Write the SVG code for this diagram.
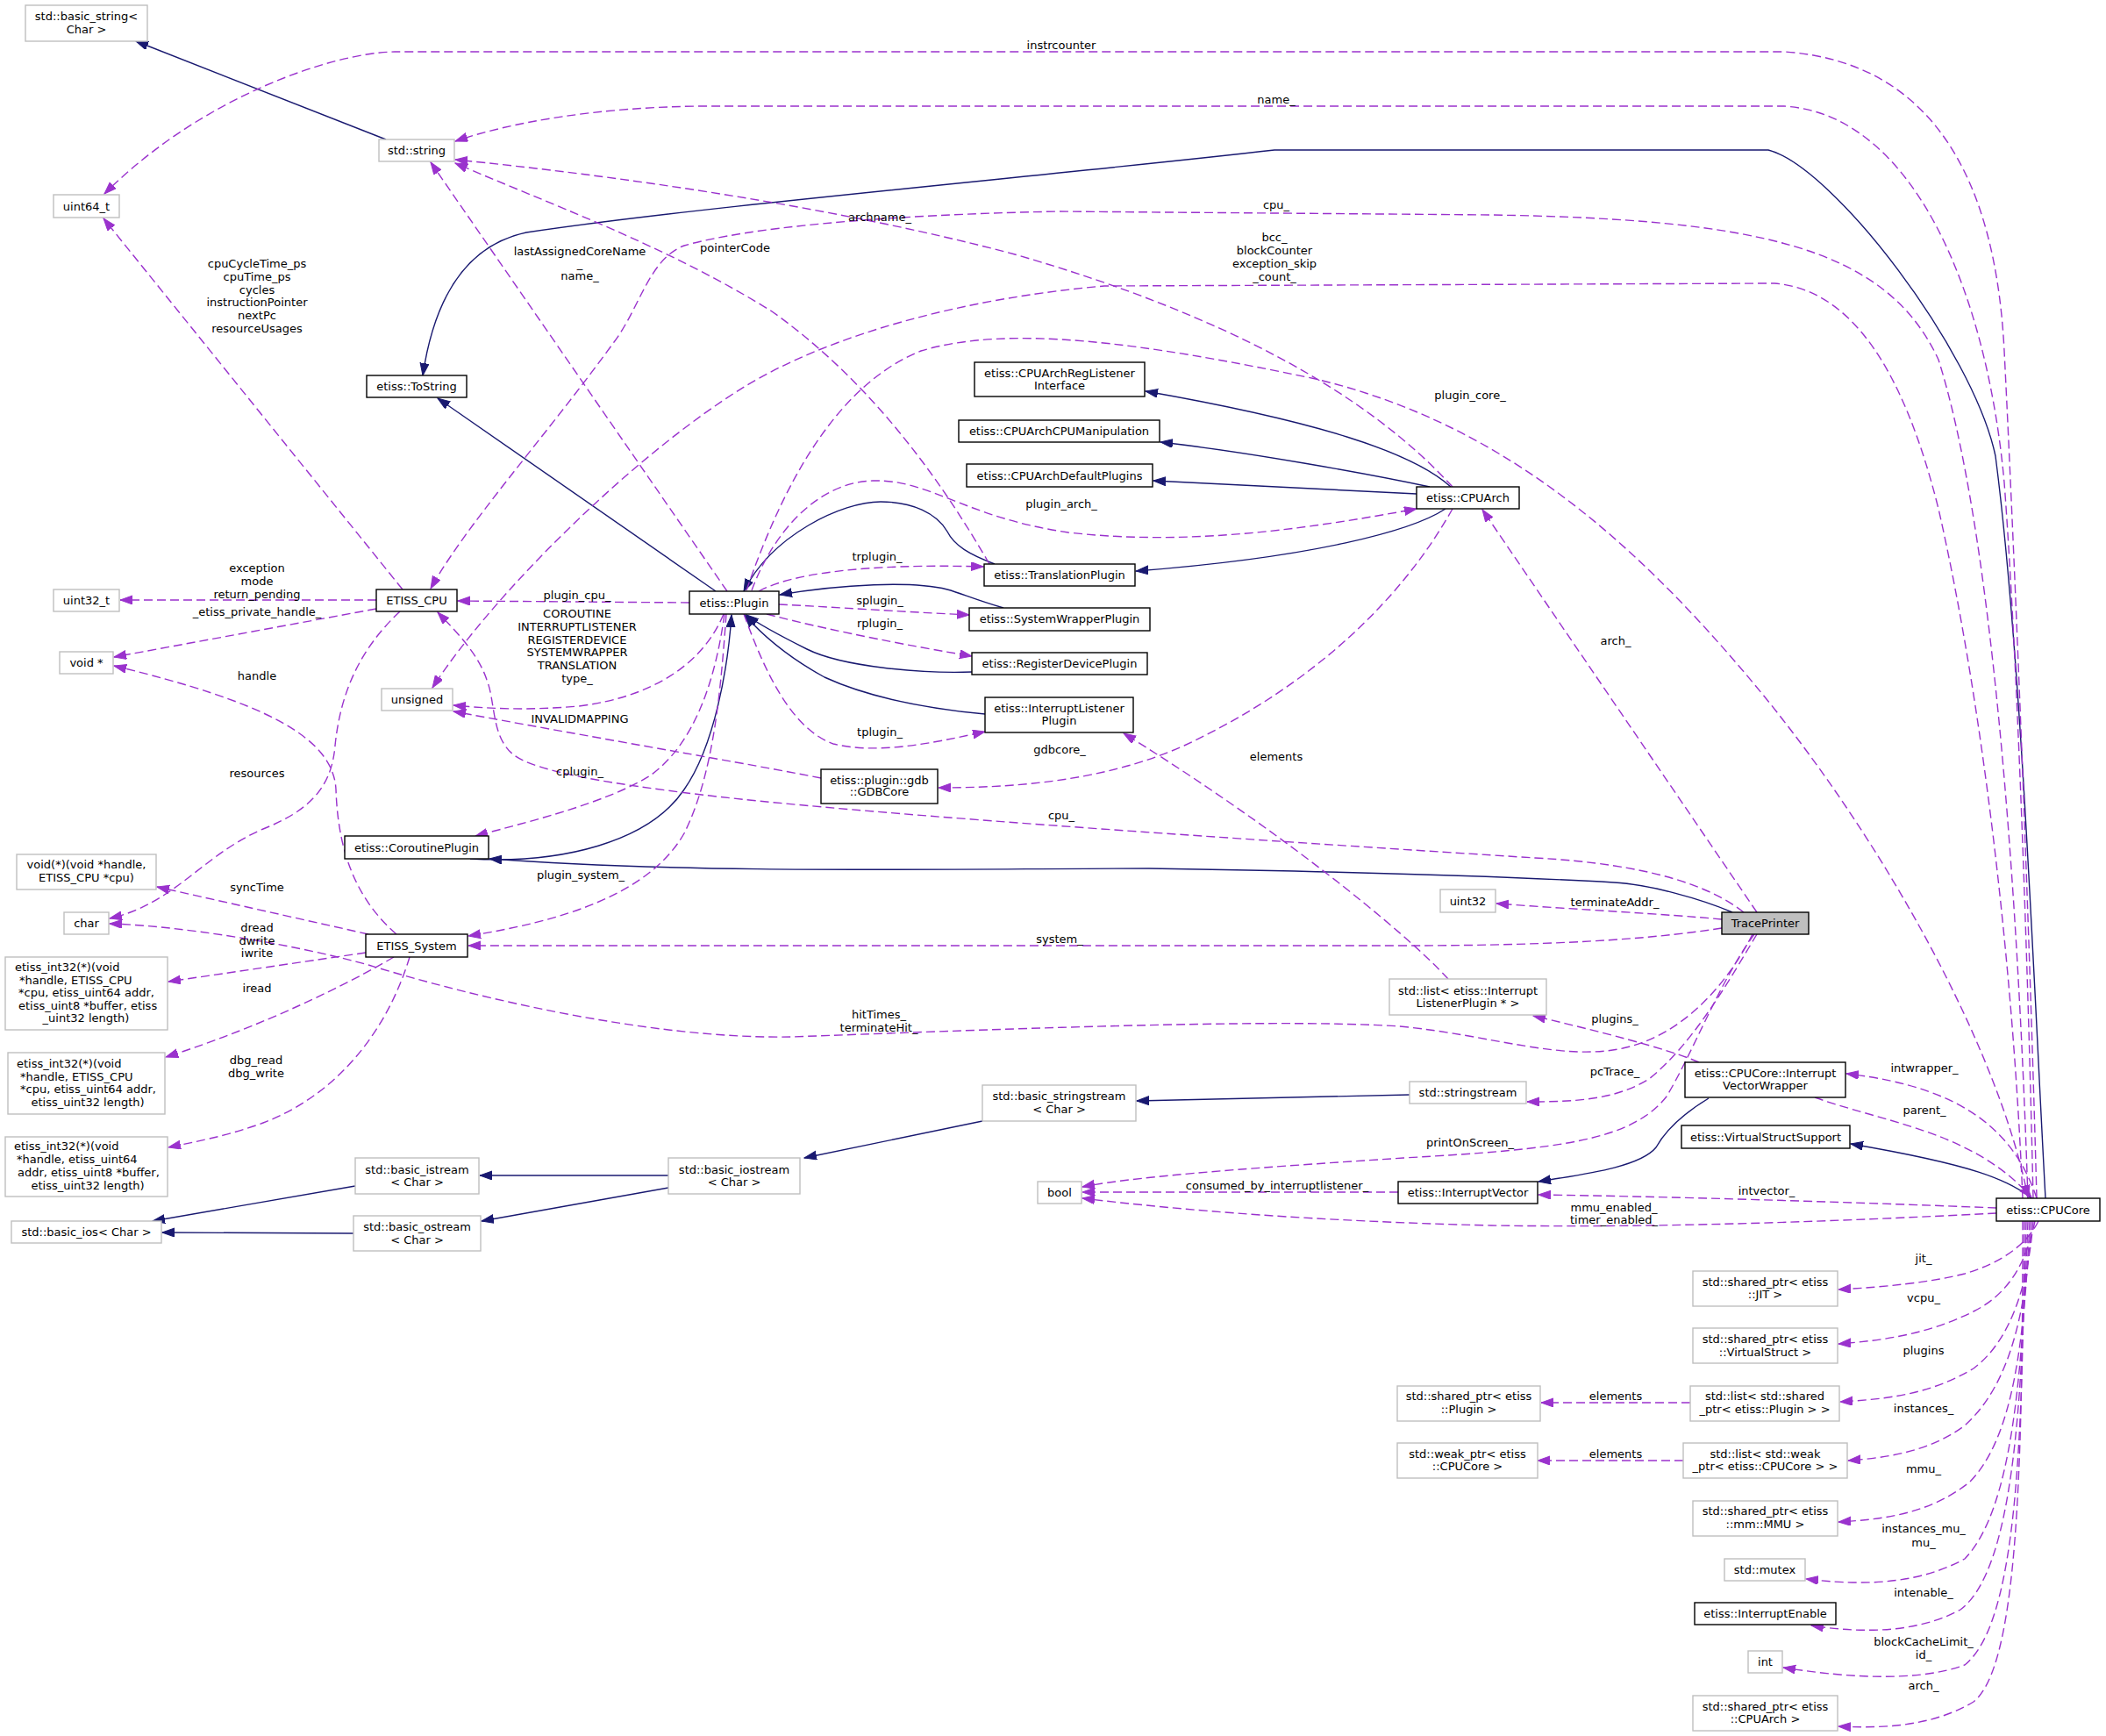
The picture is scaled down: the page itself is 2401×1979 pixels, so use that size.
<svg xmlns="http://www.w3.org/2000/svg" width="2401" height="1979" viewBox="0 0 2401 1979">
<defs>
<marker id="an" markerUnits="userSpaceOnUse" markerWidth="15" markerHeight="11" refX="14" refY="5" orient="auto"><path d="M0,0 L14,5 L0,10 z" fill="#191970" stroke="#191970"/></marker>
<marker id="ap" markerUnits="userSpaceOnUse" markerWidth="15" markerHeight="11" refX="14" refY="5" orient="auto"><path d="M0,0 L14,5 L0,10 z" fill="#9a32cd" stroke="#9a32cd"/></marker>
<style>
text{font-family:"DejaVu Sans","Liberation Sans",sans-serif;font-size:13px;fill:#000;text-anchor:middle}
text.l{text-anchor:start}
.nb rect{fill:#fff;stroke:#000;stroke-width:1.4}
.ng rect{fill:#fff;stroke:#bfbfbf;stroke-width:1.4}
.nt rect{fill:#bfbfbf;stroke:#000;stroke-width:1.4}
.inh{fill:none;stroke:#191970;stroke-width:1.4;marker-end:url(#an)}
.use{fill:none;stroke:#9a32cd;stroke-width:1.4;stroke-dasharray:10,5;marker-end:url(#ap)}
</style>
</defs>
<rect x="0" y="0" width="2401" height="1979" fill="#fff"/>
<g id="edges">
<path class="inh" d="M 440 159 L 155 47"/>
<path class="inh" d="M 816 674 L 499 454"/>
<path class="inh" d="M 2332 1366 C 2320 1150, 2305 750, 2275 520 C 2250 400, 2090 190, 2016 171 L 1453 171 C 1200 200, 800 235, 600 265 C 530 280, 495 340, 482 428"/>
<path class="inh" d="M 1654 555 C 1610 515, 1500 480, 1306 446"/>
<path class="inh" d="M 1630 555 C 1560 540, 1420 515, 1323 504"/>
<path class="inh" d="M 1615 563 L 1315 548"/>
<path class="inh" d="M 1648 580 C 1610 605, 1500 635, 1295 651"/>
<path class="inh" d="M 1134 643 C 1105 632, 1088 622, 1080 606 C 1068 585, 1040 572, 1004 572 C 960 572, 880 610, 848 674"/>
<path class="inh" d="M 1144 693 C 1110 683, 1095 676, 1080 672 C 1040 662, 960 666, 889 678"/>
<path class="inh" d="M 1108 766 C 1050 768, 960 760, 920 740 C 890 725, 865 712, 851 701"/>
<path class="inh" d="M 1123 814 C 1060 808, 990 795, 940 772 C 900 750, 870 725, 849 701"/>
<path class="inh" d="M 536 979 C 640 985, 740 960, 780 900 C 815 850, 830 760, 834 701"/>
<path class="inh" d="M 1975 1040 C 1940 1025, 1880 1008, 1840 1006 C 1700 998, 1500 993, 1310 990 C 1100 990, 800 997, 558 979"/>
<path class="inh" d="M 1948 1252 C 1915 1272, 1898 1290, 1888 1308 C 1870 1330, 1810 1338, 1754 1347"/>
<path class="inh" d="M 2316 1366 C 2290 1345, 2250 1328, 2110 1304"/>
<path class="inh" d="M 1607 1248 L 1296 1255"/>
<path class="inh" d="M 1120 1278 L 917 1320"/>
<path class="inh" d="M 762 1340 L 547 1340"/>
<path class="inh" d="M 762 1354 L 549 1392"/>
<path class="inh" d="M 405 1352 L 174 1392"/>
<path class="inh" d="M 403 1406 L 185 1405"/>

<path class="use" d="M 2322 1366 C 2315 1100, 2300 700, 2285 400 C 2275 200, 2200 70, 2034 59 L 450 59 C 380 60, 230 110, 119 221"/>
<path class="use" d="M 2318 1366 C 2312 1100, 2300 750, 2285 550 C 2265 330, 2180 130, 2034 121 L 800 121 C 680 122, 580 140, 519 161"/>
<path class="use" d="M 2312 1366 C 2300 1000, 2270 600, 2210 410 C 2150 280, 2000 250, 1700 245 L 1208 241 C 1000 245, 850 260, 780 280 C 740 295, 730 350, 700 390 C 620 500, 530 600, 491 671"/>
<path class="use" d="M 2306 1366 C 2295 1100, 2260 800, 2210 580 C 2170 420, 2110 330, 2023 323 L 1259 326 C 1100 340, 950 380, 850 440 C 720 520, 560 680, 493 784"/>
<path class="use" d="M 851 673 C 890 560, 950 440, 1050 400 C 1150 370, 1300 390, 1500 432 C 1700 480, 1850 600, 2000 780 C 2150 960, 2280 1200, 2312 1365"/>
<path class="use" d="M 2003 1040 L 1690 581"/>
<path class="use" d="M 1656 555 C 1560 450, 1400 360, 1157 290 C 950 235, 700 200, 519 182"/>
<path class="use" d="M 1128 643 C 1080 560, 1000 440, 880 355 C 760 280, 620 230, 519 186"/>
<path class="use" d="M 459 672 L 118 249"/>
<path class="use" d="M 429 684 L 137 684"/>
<path class="use" d="M 429 694 L 130 749"/>
<path class="use" d="M 456 697 C 410 740, 388 790, 382 850 C 378 900, 350 925, 300 945 C 230 975, 200 1030, 125 1047"/>
<path class="use" d="M 452 1065 C 400 1020, 385 960, 383 900 C 380 840, 300 800, 130 759"/>
<path class="use" d="M 420 1065 L 179 1011"/>
<path class="use" d="M 417 1086 L 192 1119"/>
<path class="use" d="M 449 1091 C 400 1120, 300 1170, 189 1205"/>
<path class="use" d="M 467 1091 C 440 1180, 380 1250, 300 1280 C 260 1295, 220 1302, 192 1308"/>
<path class="use" d="M 1998 1065 C 1970 1120, 1920 1180, 1850 1195 C 1780 1210, 1700 1180, 1596 1170 C 1450 1160, 1100 1175, 902 1182 C 750 1185, 550 1140, 420 1100 C 330 1075, 200 1055, 125 1053"/>
<path class="use" d="M 1963 1058 C 1900 1068, 1800 1078, 1600 1078 L 534 1078"/>
<path class="use" d="M 828 700 C 822 780, 815 880, 780 950 C 740 1020, 640 1050, 534 1067"/>
<path class="use" d="M 786 687 L 522 685"/>
<path class="use" d="M 825 700 C 800 760, 740 795, 660 805 C 600 810, 560 808, 517 804"/>
<path class="use" d="M 936 887 C 850 870, 700 845, 517 811"/>
<path class="use" d="M 1988 1040 C 1950 1010, 1880 985, 1750 978 C 1500 962, 1000 930, 800 906 C 700 894, 610 880, 585 860 C 560 840, 565 800, 555 775 C 545 745, 520 720, 499 698"/>
<path class="use" d="M 826 700 C 815 780, 790 850, 740 885 C 690 915, 610 935, 542 953"/>
<path class="use" d="M 865 674 C 900 655, 980 642, 1121 646"/>
<path class="use" d="M 888 689 C 950 692, 1020 697, 1105 701"/>
<path class="use" d="M 874 700 C 920 712, 1000 730, 1108 748"/>
<path class="use" d="M 848 700 C 870 760, 900 830, 950 848 C 1000 860, 1060 848, 1123 834"/>
<path class="use" d="M 857 673 C 880 610, 930 550, 995 548 C 1060 546, 1100 590, 1218 607 C 1350 622, 1480 605, 1615 580"/>
<path class="use" d="M 1656 580 C 1600 680, 1500 780, 1350 850 C 1260 890, 1160 898, 1070 898"/>
<path class="use" d="M 1963 1048 C 1900 1042, 1800 1037, 1706 1030"/>
<path class="use" d="M 1937 1211 C 1900 1195, 1820 1175, 1748 1158"/>
<path class="use" d="M 1651 1116 C 1600 1060, 1450 940, 1281 836"/>
<path class="use" d="M 2003 1065 C 1970 1120, 1930 1190, 1880 1230 C 1840 1255, 1790 1256, 1741 1256"/>
<path class="use" d="M 2000 1065 C 1960 1120, 1930 1200, 1900 1250 C 1860 1300, 1780 1310, 1600 1320 C 1450 1330, 1300 1340, 1234 1353"/>
<path class="use" d="M 1594 1359 L 1234 1359"/>
<path class="use" d="M 2276 1383 C 2100 1392, 1900 1400, 1700 1397 C 1500 1392, 1350 1380, 1234 1366"/>
<path class="use" d="M 2276 1377 C 2100 1370, 1900 1364, 1754 1362"/>
<path class="use" d="M 2322 1366 C 2300 1300, 2250 1240, 2105 1224"/>
<path class="use" d="M 2069 1251 C 2150 1280, 2250 1290, 2316 1365"/>
<path class="use" d="M 2324 1392 C 2310 1420, 2280 1440, 2240 1452 C 2200 1462, 2150 1467, 2096 1470"/>
<path class="use" d="M 2320 1392 C 2310 1440, 2290 1475, 2250 1495 C 2200 1520, 2150 1528, 2096 1532"/>
<path class="use" d="M 2318 1392 C 2312 1470, 2290 1530, 2250 1560 C 2200 1590, 2150 1595, 2098 1598"/>
<path class="use" d="M 2316 1392 C 2310 1500, 2290 1580, 2240 1625 C 2200 1655, 2150 1662, 2107 1665"/>
<path class="use" d="M 2314 1392 C 2308 1530, 2295 1640, 2245 1690 C 2200 1725, 2150 1732, 2096 1735"/>
<path class="use" d="M 2312 1392 C 2306 1560, 2295 1720, 2240 1777 C 2180 1810, 2110 1806, 2059 1800"/>
<path class="use" d="M 2310 1392 C 2306 1600, 2295 1790, 2235 1835 C 2180 1865, 2110 1860, 2065 1853"/>
<path class="use" d="M 2308 1392 C 2306 1640, 2300 1850, 2240 1898 C 2180 1920, 2090 1910, 2033 1901"/>
<path class="use" d="M 2306 1392 C 2306 1680, 2300 1900, 2250 1940 C 2200 1970, 2140 1970, 2096 1968"/>
<path class="use" d="M 1927 1599 L 1757 1599"/>
<path class="use" d="M 1919 1665 L 1753 1665"/>
<path class="use" d="M 829 674 L 491 185"/>
</g>
<g id="edge-labels">
<text x="1210" y="55.5">instrcounter</text>
<text x="1455" y="117.5">name_</text>
<text x="1455" y="237.5">cpu_</text>
<text x="1003" y="251.5">archname_</text>
<text x="838" y="286.5">pointerCode</text>
<text x="1453" y="274.5">bcc_</text>
<text x="1453" y="289.5">blockCounter</text>
<text x="1453" y="304.5">exception_skip</text>
<text x="1453" y="319.5">_count_</text>
<text x="661" y="290.5">lastAssignedCoreName</text>
<text x="661" y="304.5">_</text>
<text x="661" y="318.5">name_</text>
<text x="293" y="304.5">cpuCycleTime_ps</text>
<text x="293" y="319.5">cpuTime_ps</text>
<text x="293" y="334.5">cycles</text>
<text x="293" y="348.5">instructionPointer</text>
<text x="293" y="363.5">nextPc</text>
<text x="293" y="378.5">resourceUsages</text>
<text x="1676" y="454.5">plugin_core_</text>
<text x="1210" y="578.5">plugin_arch_</text>
<text x="1000" y="638.5">trplugin_</text>
<text x="293" y="651.5">exception</text>
<text x="293" y="666.5">mode</text>
<text x="293" y="681.5">return_pending</text>
<text x="293" y="701.5">_etiss_private_handle_</text>
<text x="658" y="682.5">plugin_cpu_</text>
<text x="658" y="703.5">COROUTINE</text>
<text x="658" y="718.5">INTERRUPTLISTENER</text>
<text x="658" y="733.5">REGISTERDEVICE</text>
<text x="658" y="747.5">SYSTEMWRAPPER</text>
<text x="658" y="762.5">TRANSLATION</text>
<text x="658" y="777.5">type_</text>
<text x="1003" y="688.5">splugin_</text>
<text x="1003" y="714.5">rplugin_</text>
<text x="1842" y="734.5">arch_</text>
<text x="293" y="774.5">handle</text>
<text x="661" y="823.5">INVALIDMAPPING</text>
<text x="1003" y="838.5">tplugin_</text>
<text x="1208" y="858.5">gdbcore_</text>
<text x="1455" y="866.5">elements</text>
<text x="293" y="885.5">resources</text>
<text x="661" y="883.5">cplugin_</text>
<text x="1210" y="933.5">cpu_</text>
<text x="662" y="1001.5">plugin_system_</text>
<text x="293" y="1015.5">syncTime</text>
<text x="1841" y="1032.5">terminateAddr_</text>
<text x="293" y="1061.5">dread</text>
<text x="293" y="1076.5">dwrite</text>
<text x="293" y="1090.5">iwrite</text>
<text x="1208" y="1074.5">system_</text>
<text x="293" y="1130.5">iread</text>
<text x="1002" y="1160.5">hitTimes_</text>
<text x="1002" y="1175.5">terminateHit_</text>
<text x="1841" y="1165.5">plugins_</text>
<text x="292" y="1212.5">dbg_read</text>
<text x="292" y="1227.5">dbg_write</text>
<text x="2194" y="1221.5">intwrapper_</text>
<text x="1841" y="1225.5">pcTrace_</text>
<text x="2194" y="1269.5">parent_</text>
<text x="1676" y="1306.5">printOnScreen_</text>
<text x="1456" y="1355.5">consumed_by_interruptlistener_</text>
<text x="2014" y="1361.5">intvector_</text>
<text x="1840" y="1380.5">mmu_enabled_</text>
<text x="1840" y="1394.5">timer_enabled_</text>
<text x="2193" y="1438.5">jit_</text>
<text x="2193" y="1483.5">vcpu_</text>
<text x="2193" y="1543.5">plugins</text>
<text x="1842" y="1595.5">elements</text>
<text x="2193" y="1609.5">instances_</text>
<text x="1842" y="1661.5">elements</text>
<text x="2193" y="1678.5">mmu_</text>
<text x="2193" y="1746.5">instances_mu_</text>
<text x="2193" y="1762.5">mu_</text>
<text x="2193" y="1819.5">intenable_</text>
<text x="2193" y="1875.5">blockCacheLimit_</text>
<text x="2193" y="1890.5">id_</text>
<text x="2193" y="1925.5">arch_</text>
</g>
<g id="node-basic_string" class="ng"><rect x="29" y="6" width="139" height="41"/><text x="98.5" y="22.5">std::basic_string&lt;</text><text x="98.5" y="37.5">Char &gt;</text></g>
<g id="node-string" class="ng"><rect x="432" y="159" width="86" height="25"/><text x="475" y="176">std::string</text></g>
<g id="node-uint64" class="ng"><rect x="61" y="222" width="75" height="26"/><text x="98.5" y="239.5">uint64_t</text></g>
<g id="node-tostring" class="nb"><rect x="418" y="428" width="114" height="25"/><text x="475" y="445">etiss::ToString</text></g>
<g id="node-uint32_t" class="ng"><rect x="61" y="672" width="75" height="25"/><text x="98.5" y="689">uint32_t</text></g>
<g id="node-etiss_cpu" class="nb"><rect x="429" y="672" width="92" height="25"/><text x="475" y="689">ETISS_CPU</text></g>
<g id="node-void" class="ng"><rect x="68" y="743" width="61" height="25"/><text x="98.5" y="760">void *</text></g>
<g id="node-unsigned" class="ng"><rect x="435" y="785" width="81" height="25"/><text x="475.5" y="802">unsigned</text></g>
<g id="node-coroutine" class="nb"><rect x="393" y="953" width="164" height="26"/><text x="475" y="970.5">etiss::CoroutinePlugin</text></g>
<g id="node-voidfn" class="ng"><rect x="19" y="974" width="159" height="40"/><text x="98.5" y="989.5">void(*)(void *handle,</text><text x="98.5" y="1004.5">ETISS_CPU *cpu)</text></g>
<g id="node-char" class="ng"><rect x="73" y="1040" width="51" height="25"/><text x="98.5" y="1057">char</text></g>
<g id="node-etiss_system" class="nb"><rect x="417" y="1065" width="116" height="26"/><text x="475" y="1082.5">ETISS_System</text></g>
<g id="node-fn1" class="ng"><rect x="6" y="1091" width="185" height="83"/><text class="l" x="17" y="1106.5">etiss_int32(*)(void</text><text class="l" x="22" y="1121.5">*handle, ETISS_CPU</text><text class="l" x="21" y="1135.5">*cpu, etiss_uint64 addr,</text><text class="l" x="21" y="1150.5">etiss_uint8 *buffer, etiss</text><text x="98" y="1164.5">_uint32 length)</text></g>
<g id="node-fn2" class="ng"><rect x="9" y="1200" width="179" height="70"/><text class="l" x="19" y="1216.5">etiss_int32(*)(void</text><text class="l" x="23" y="1231.5">*handle, ETISS_CPU</text><text class="l" x="23" y="1245.5">*cpu, etiss_uint64 addr,</text><text x="100" y="1260.5">etiss_uint32 length)</text></g>
<g id="node-fn3" class="ng"><rect x="6" y="1296" width="185" height="68"/><text class="l" x="16" y="1311">etiss_int32(*)(void</text><text class="l" x="19" y="1326">*handle, etiss_uint64</text><text class="l" x="20" y="1340.5">addr, etiss_uint8 *buffer,</text><text x="100" y="1355.5">etiss_uint32 length)</text></g>
<g id="node-basic_istream" class="ng"><rect x="405" y="1320" width="141" height="41"/><text x="475.5" y="1337.5">std::basic_istream</text><text x="475.5" y="1351.5">&lt; Char &gt;</text></g>
<g id="node-basic_ios" class="ng"><rect x="13" y="1392" width="171" height="25"/><text x="98.5" y="1409">std::basic_ios&lt; Char &gt;</text></g>
<g id="node-basic_ostream" class="ng"><rect x="403" y="1386" width="145" height="40"/><text x="475.5" y="1402.5">std::basic_ostream</text><text x="475.5" y="1417.5">&lt; Char &gt;</text></g>
<g id="node-basic_iostream" class="ng"><rect x="762" y="1320" width="150" height="41"/><text x="837" y="1337.5">std::basic_iostream</text><text x="837" y="1351.5">&lt; Char &gt;</text></g>
<g id="node-plugin" class="nb"><rect x="786" y="674" width="102" height="26"/><text x="837" y="691.5">etiss::Plugin</text></g>
<g id="node-archreg" class="nb"><rect x="1111" y="413" width="194" height="39"/><text x="1208" y="429.5">etiss::CPUArchRegListener</text><text x="1208" y="443.5">Interface</text></g>
<g id="node-archcpu" class="nb"><rect x="1093" y="479" width="229" height="25"/><text x="1207.5" y="495.5">etiss::CPUArchCPUManipulation</text></g>
<g id="node-archdef" class="nb"><rect x="1102" y="529" width="212" height="26"/><text x="1208" y="546.5">etiss::CPUArchDefaultPlugins</text></g>
<g id="node-cpuarch" class="nb"><rect x="1615" y="555" width="117" height="25"/><text x="1673.5" y="572">etiss::CPUArch</text></g>
<g id="node-translation" class="nb"><rect x="1122" y="643" width="172" height="25"/><text x="1208" y="660">etiss::TranslationPlugin</text></g>
<g id="node-syswrap" class="nb"><rect x="1105" y="693" width="206" height="26"/><text x="1208" y="710">etiss::SystemWrapperPlugin</text></g>
<g id="node-regdev" class="nb"><rect x="1108" y="744" width="200" height="25"/><text x="1208" y="761">etiss::RegisterDevicePlugin</text></g>
<g id="node-ilp" class="nb"><rect x="1123" y="795" width="169" height="40"/><text x="1207.5" y="811.5">etiss::InterruptListener</text><text x="1207.5" y="825.5">Plugin</text></g>
<g id="node-gdbcore" class="nb"><rect x="936" y="877" width="133" height="39"/><text x="1002.5" y="893.5">etiss::plugin::gdb</text><text x="1002.5" y="906.5">::GDBCore</text></g>
<g id="node-basic_sstream" class="ng"><rect x="1120" y="1237" width="175" height="41"/><text x="1207.5" y="1253.5">std::basic_stringstream</text><text x="1207.5" y="1268.5">&lt; Char &gt;</text></g>
<g id="node-uint32" class="ng"><rect x="1642" y="1014" width="63" height="26"/><text x="1673.5" y="1031.5">uint32</text></g>
<g id="node-traceprinter" class="nt"><rect x="1963" y="1040" width="99" height="25"/><text x="2012.5" y="1057">TracePrinter</text></g>
<g id="node-list_ilp" class="ng"><rect x="1584" y="1116" width="179" height="41"/><text x="1673.5" y="1133.5">std::list&lt; etiss::Interrupt</text><text x="1673.5" y="1147.5">ListenerPlugin * &gt;</text></g>
<g id="node-ivw" class="nb"><rect x="1921" y="1211" width="183" height="40"/><text x="2012.5" y="1227.5">etiss::CPUCore::Interrupt</text><text x="2012.5" y="1241.5">VectorWrapper</text></g>
<g id="node-sstream" class="ng"><rect x="1607" y="1233" width="133" height="25"/><text x="1673.5" y="1250">std::stringstream</text></g>
<g id="node-vss" class="nb"><rect x="1917" y="1283" width="192" height="26"/><text x="2013" y="1300.5">etiss::VirtualStructSupport</text></g>
<g id="node-bool" class="ng"><rect x="1183" y="1347" width="50" height="25"/><text x="1208" y="1364">bool</text></g>
<g id="node-intvector" class="nb"><rect x="1594" y="1347" width="159" height="25"/><text x="1673.5" y="1364">etiss::InterruptVector</text></g>
<g id="node-cpucore" class="nb"><rect x="2276" y="1366" width="118" height="26"/><text x="2335" y="1383.5">etiss::CPUCore</text></g>
<g id="node-jit" class="ng"><rect x="1930" y="1449" width="165" height="40"/><text x="2012.5" y="1465.5">std::shared_ptr&lt; etiss</text><text x="2012.5" y="1479.5">::JIT &gt;</text></g>
<g id="node-vstruct" class="ng"><rect x="1930" y="1514" width="165" height="40"/><text x="2012.5" y="1530.5">std::shared_ptr&lt; etiss</text><text x="2012.5" y="1545.5">::VirtualStruct &gt;</text></g>
<g id="node-list_plugin" class="ng"><rect x="1927" y="1580" width="170" height="40"/><text x="2012" y="1595.5">std::list&lt; std::shared</text><text x="2012" y="1610.5">_ptr&lt; etiss::Plugin &gt; &gt;</text></g>
<g id="node-sp_plugin" class="ng"><rect x="1593" y="1580" width="163" height="40"/><text x="1674.5" y="1595.5">std::shared_ptr&lt; etiss</text><text x="1674.5" y="1610.5">::Plugin &gt;</text></g>
<g id="node-list_weak" class="ng"><rect x="1919" y="1645" width="187" height="40"/><text x="2012.5" y="1661.5">std::list&lt; std::weak</text><text x="2012.5" y="1675.5">_ptr&lt; etiss::CPUCore &gt; &gt;</text></g>
<g id="node-weak_cpucore" class="ng"><rect x="1593" y="1645" width="160" height="40"/><text x="1673" y="1661.5">std::weak_ptr&lt; etiss</text><text x="1673" y="1675.5">::CPUCore &gt;</text></g>
<g id="node-mmu" class="ng"><rect x="1930" y="1711" width="165" height="40"/><text x="2012.5" y="1726.5">std::shared_ptr&lt; etiss</text><text x="2012.5" y="1741.5">::mm::MMU &gt;</text></g>
<g id="node-mutex" class="ng"><rect x="1966" y="1777" width="92" height="25"/><text x="2012" y="1794">std::mutex</text></g>
<g id="node-intenable" class="nb"><rect x="1932" y="1827" width="161" height="25"/><text x="2012.5" y="1844">etiss::InterruptEnable</text></g>
<g id="node-int" class="ng"><rect x="1993" y="1882" width="39" height="25"/><text x="2012.5" y="1899">int</text></g>
<g id="node-sp_arch" class="ng"><rect x="1930" y="1933" width="165" height="40"/><text x="2012.5" y="1949.5">std::shared_ptr&lt; etiss</text><text x="2012.5" y="1963.5">::CPUArch &gt;</text></g>
</svg>
